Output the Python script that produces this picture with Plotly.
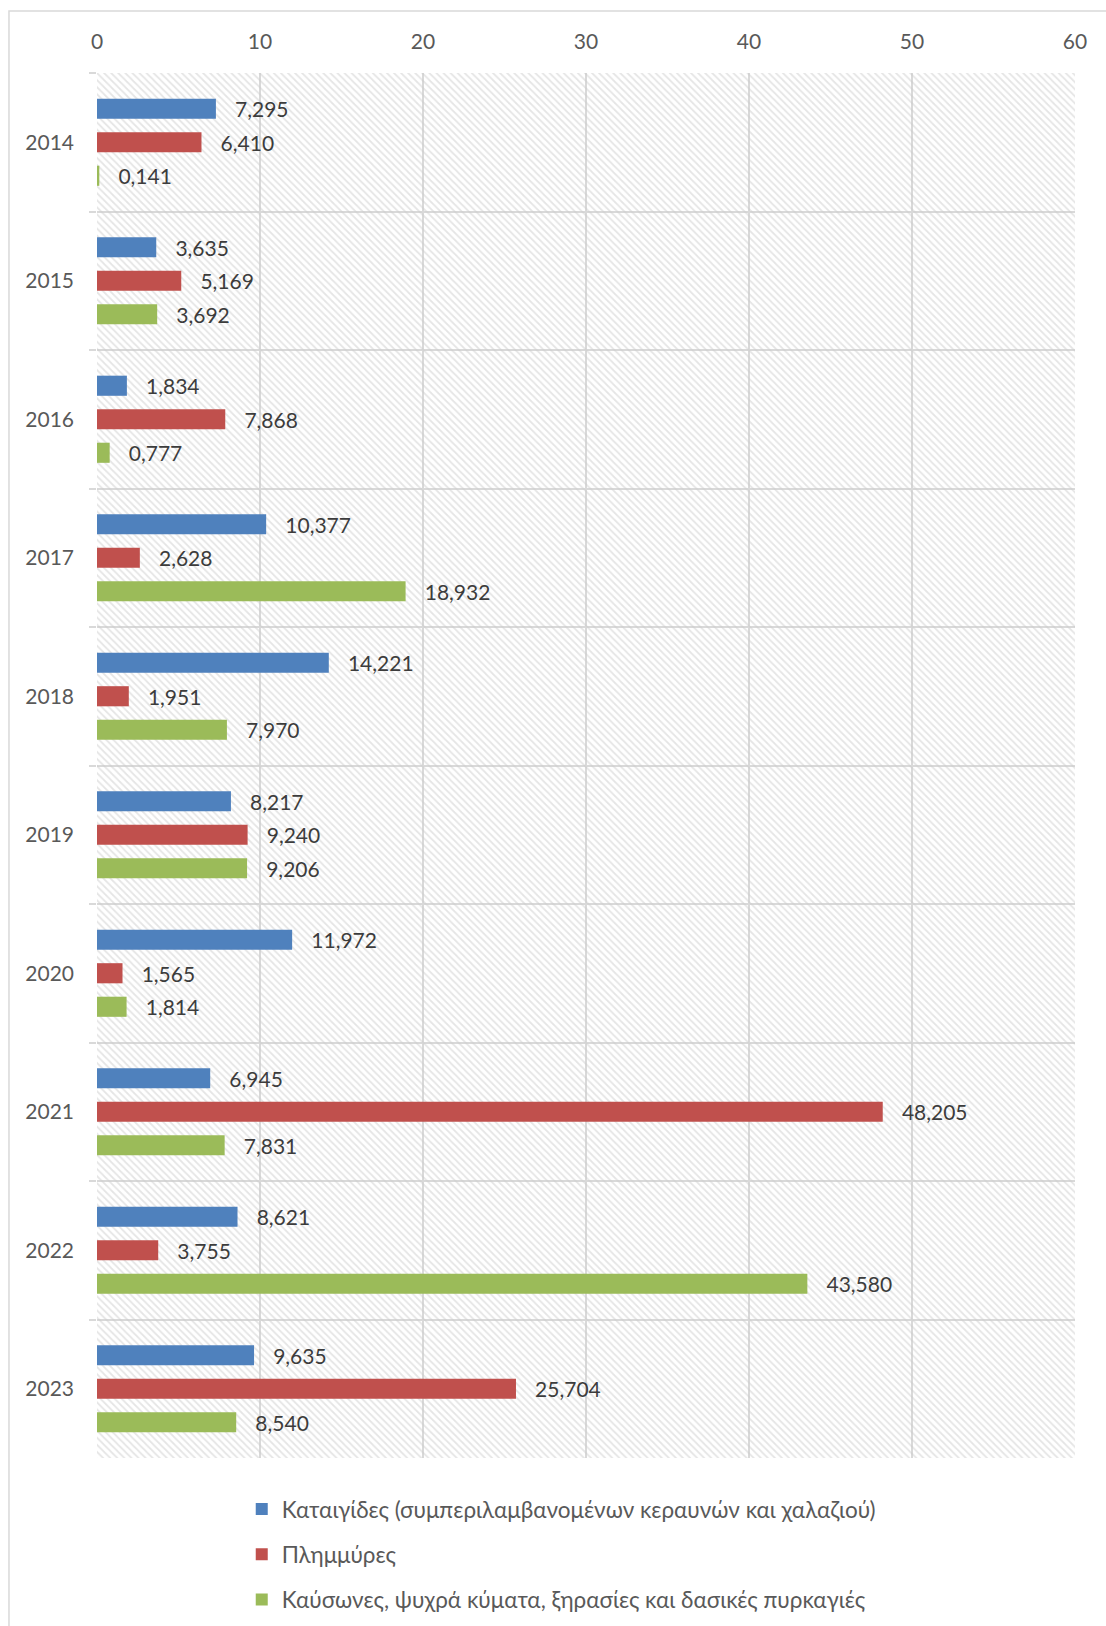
import plotly.graph_objects as go

# Annual figures per hazard type
years = ["2014", "2015", "2016", "2017", "2018", "2019", "2020", "2021", "2022", "2023"]
storms = [7.295, 3.635, 1.834, 10.377, 14.221, 8.217, 11.972, 6.945, 8.621, 9.635]
floods = [6.410, 5.169, 7.868, 2.628, 1.951, 9.240, 1.565, 48.205, 3.755, 25.704]
heat_fire = [0.141, 3.692, 0.777, 18.932, 7.970, 9.206, 1.814, 7.831, 43.580, 8.540]

series_names = [
    "Καταιγίδες (συμπεριλαμβανομένων κεραυνών και χαλαζιού)",
    "Πλημμύρες",
    "Καύσωνες, ψυχρά κύματα, ξηρασίες και δασικές πυρκαγιές",
]
series_values = [storms, floods, heat_fire]
series_colors = ["#4F81BD", "#C0504D", "#9BBB59"]

x_ticks = [0, 10, 20, 30, 40, 50, 60]

FONT = "Lato, Carlito, 'Open Sans', sans-serif"
GRID = "#d9d9d9"

fig = go.Figure()

# Diagonal hatch filling the plotting area (drawn on the hidden base axes)
fig.add_trace(go.Scatter(
    x=[0, 1, 1, 0, 0], y=[0, 0, 1, 1, 0],
    xaxis="x", yaxis="y",
    mode="lines", line=dict(width=0),
    fill="toself", fillcolor="rgba(0,0,0,0)",
    fillpattern=dict(shape="\\", size=5, solidity=0.35,
                     fgcolor="#cccccc", bgcolor="rgba(0,0,0,0)"),
    hoverinfo="skip", showlegend=False,
))

pad = "\u00a0\u00a0\u00a0"
for i, (name, vals, col) in enumerate(zip(series_names, series_values, series_colors)):
    fig.add_trace(go.Bar(
        name=name, x=vals, y=years, orientation="h",
        xaxis="x2", yaxis="y2",
        marker=dict(color=col, line=dict(width=0)),
        texttemplate=pad + "%{x:.3f}", textposition="outside",
        textfont=dict(family=FONT, size=21, color="#3c3c3c"),
        constraintext="none", cliponaxis=False,
        legendgroup=f"g{i}",
        hoverinfo="skip",
    ))

fig.update_layout(
    width=1106, height=1626,
    margin=dict(l=97, r=31, t=73, b=168, autoexpand=False),
    paper_bgcolor="white", plot_bgcolor="white",
    font=dict(family=FONT, size=21, color="#595959"),
    separators=",.",
    barmode="group", bargap=0.274, bargroupgap=0.4,
    xaxis=dict(range=[0, 1], visible=False, fixedrange=True),
    yaxis=dict(range=[0, 1], visible=False, fixedrange=True),
    xaxis2=dict(
        overlaying="x", side="top", anchor="y2",
        range=[0, 60], tickvals=x_ticks,
        showgrid=True, gridcolor=GRID, gridwidth=2,
        zeroline=False, showline=False, ticks="",
        tickfont=dict(family=FONT, size=21, color="#595959"),
        ticklabelstandoff=19,
    ),
    yaxis2=dict(
        overlaying="y", anchor="x2", side="left",
        type="category", categoryorder="array", categoryarray=years,
        autorange="reversed",
        tickson="boundaries", ticks="outside", ticklen=7,
        tickcolor=GRID, tickwidth=2,
        showgrid=True, gridcolor=GRID, gridwidth=2,
        zeroline=False, showline=False,
        tickfont=dict(family=FONT, size=21, color="#595959"),
        ticklabelstandoff=22,
    ),
    legend=dict(
        orientation="v", x=0.148, xanchor="left",
        y=-0.0215, yanchor="top",
        font=dict(family=FONT, size=22.5, color="#595959"),
        tracegroupgap=13, bgcolor="rgba(0,0,0,0)",
        itemclick=False, itemdoubleclick=False,
    ),
    showlegend=True,
    shapes=[dict(
        type="rect", xref="paper", yref="paper",
        x0=-0.0900, x1=1.04, y0=-0.2, y1=1.0448,
        line=dict(color=GRID, width=1.5), fillcolor="rgba(0,0,0,0)",
        layer="below",
    )],
)

fig.write_html("out.html")
